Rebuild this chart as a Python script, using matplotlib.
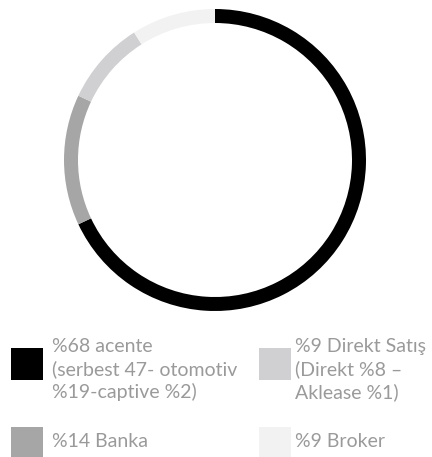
import matplotlib
matplotlib.use("Agg")
import matplotlib.pyplot as plt

labels = ["%68 acente\n(serbest 47- otomotiv\n%19-captive %2)",
          "%14 Banka",
          "%9 Direkt Satış\n(Direkt %8 –\nAklease %1)",
          "%9 Broker"]
values = [68, 14, 9, 9]
colors = ["#000000", "#a6a6a6", "#d0d0d2", "#f2f2f2"]

W, H = 432, 457
fig = plt.figure(figsize=(W / 100, H / 100), dpi=100)

cx, cy, r = 215, 160, 151
ax = fig.add_axes([(cx - r) / W, (H - cy - r) / H, 2 * r / W, 2 * r / H])
ax.pie(values, colors=colors, startangle=90, counterclock=False,
       wedgeprops=dict(width=14 / r, linewidth=0))
ax.set_xlim(-1, 1)
ax.set_ylim(-1, 1)
ax.axis("off")

font = dict(family=["Lato", "DejaVu Sans"], fontsize=14, color="#9a9a9a",
            fontweight="normal")
# legend: (square x, square top y, text x, first baseline y)
positions = [(11, 348, 52, 352), (11, 427, 52, 447),
             (259, 348, 295, 352), (259, 427, 295, 447)]
line_step = 23
for (sx, sy, tx, by), lab, col in zip(positions, labels, colors):
    fig.patches.append(plt.Rectangle((sx / W, 1 - (sy + 32) / H), 32 / W, 32 / H,
                                     transform=fig.transFigure, color=col, lw=0))
    for i, line in enumerate(lab.split("\n")):
        fig.text(tx / W, 1 - (by + i * line_step) / H, line, va="baseline",
                 ha="left", **font)

fig.savefig("out.png", dpi=100)
